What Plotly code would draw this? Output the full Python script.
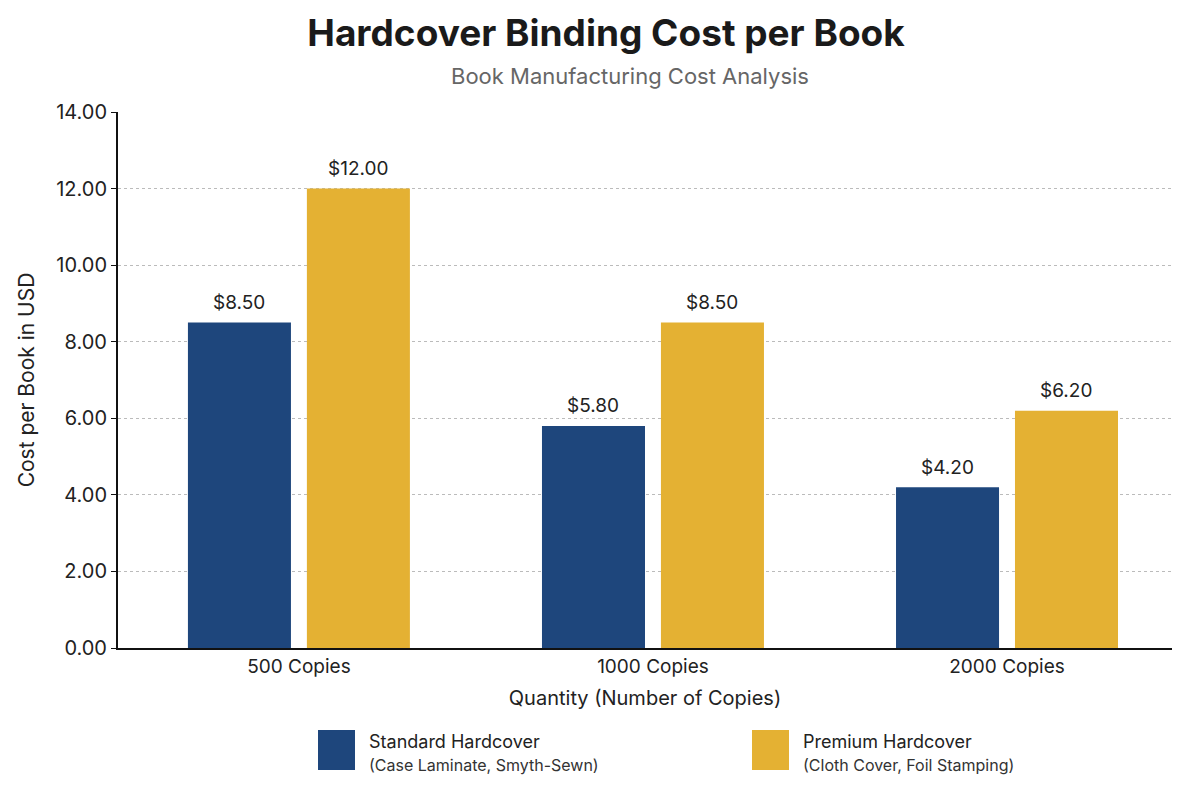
import plotly.graph_objects as go

categories = ["500 Copies", "1000 Copies", "2000 Copies"]
standard = [8.50, 5.80, 4.20]
premium = [12.00, 8.50, 6.20]
series_names = ["Standard Hardcover", "Premium Hardcover"]
series_sub = ["(Case Laminate, Smyth-Sewn)", "(Cloth Cover, Foil Stamping)"]
y_ticks = [0, 2, 4, 6, 8, 10, 12, 14]

navy = "#1E467C"
gold = "#E4B133"
font = "Inter, Roboto, sans-serif"

PLOT_W, PLOT_H = 1054, 536
X_RANGE = [-0.511, 2.466]
px_per_cat = PLOT_W / (X_RANGE[1] - X_RANGE[0])
BARGAP, GROUPGAP = 0.328, 0.134
half_slot_px = (1 - BARGAP) / 4 * px_per_cat

fig = go.Figure()
for name, vals, col in [(series_names[0], standard, navy), (series_names[1], premium, gold)]:
    fig.add_trace(go.Bar(
        x=categories, y=vals, name=name, marker=dict(color=col, line=dict(width=0)),
        showlegend=False,
    ))

# value labels above bars
for sign, vals in [(-1, standard), (1, premium)]:
    for c, v in zip(categories, vals):
        fig.add_annotation(x=c, y=v, text=f"${v:.2f}", showarrow=False,
                           xshift=sign * half_slot_px, yshift=20, yanchor="middle",
                           font=dict(size=19, color="#222", family=font))

fig.update_layout(
    width=1200, height=797,
    margin=dict(l=118, r=28, t=112, b=149),
    paper_bgcolor="white", plot_bgcolor="white",
    barmode="group", bargap=BARGAP, bargroupgap=GROUPGAP,
    font=dict(family=font, color="#222"),
    title=dict(text="<b>Hardcover Binding Cost per Book</b>", x=0.505, xanchor="center",
               y=0.958, yanchor="middle", font=dict(size=37, color="#1a1a1a", family=font)),
    xaxis=dict(range=X_RANGE, showline=True, linecolor="#111", linewidth=2, ticks="", showgrid=False,
               tickfont=dict(size=19, color="#222"),
               title=dict(text="Quantity (Number of Copies)", font=dict(size=20, color="#222"), standoff=14)),
    yaxis=dict(range=[0, 14], tickvals=y_ticks, ticktext=[f"{v:.2f}" for v in y_ticks],
               showline=True, linecolor="#111", linewidth=2, ticks="outside", ticklen=5,
               tickcolor="#111", showgrid=True, gridcolor="#bbbbbb", griddash="dot", gridwidth=1,
               zeroline=False, tickfont=dict(size=20, color="#222"),
               title=dict(text="Cost per Book in USD", font=dict(size=21, color="#222"), standoff=16)),
)

fig.add_annotation(text="Book Manufacturing Cost Analysis", xref="paper", yref="paper",
                   x=(630 - 118) / PLOT_W, y=1.0 + (112 - 76) / PLOT_H, xanchor="center", yanchor="middle",
                   showarrow=False, font=dict(size=22, color="#666", family=font))

# Legend drawn as shapes + annotations (large swatches, two-line labels)
legend_x = [318, 752]
for i, col in enumerate([navy, gold]):
    x0 = legend_x[i]
    fig.add_shape(type="rect", xref="paper", yref="paper",
                  x0=(x0 - 118) / PLOT_W, x1=(x0 + 37 - 118) / PLOT_W,
                  y0=-(770 - 648) / PLOT_H, y1=-(730 - 648) / PLOT_H,
                  fillcolor=col, line=dict(width=0))
    fig.add_annotation(text=series_names[i], xref="paper", yref="paper",
                       x=(x0 + 49 - 118) / PLOT_W, y=-(741 - 648) / PLOT_H,
                       xanchor="left", yanchor="middle", showarrow=False,
                       font=dict(size=18, color="#222", family=font))
    fig.add_annotation(text=series_sub[i], xref="paper", yref="paper",
                       x=(x0 + 49 - 118) / PLOT_W, y=-(765 - 648) / PLOT_H,
                       xanchor="left", yanchor="middle", showarrow=False,
                       font=dict(size=16, color="#333", family=font))

fig.write_html("out.html")
